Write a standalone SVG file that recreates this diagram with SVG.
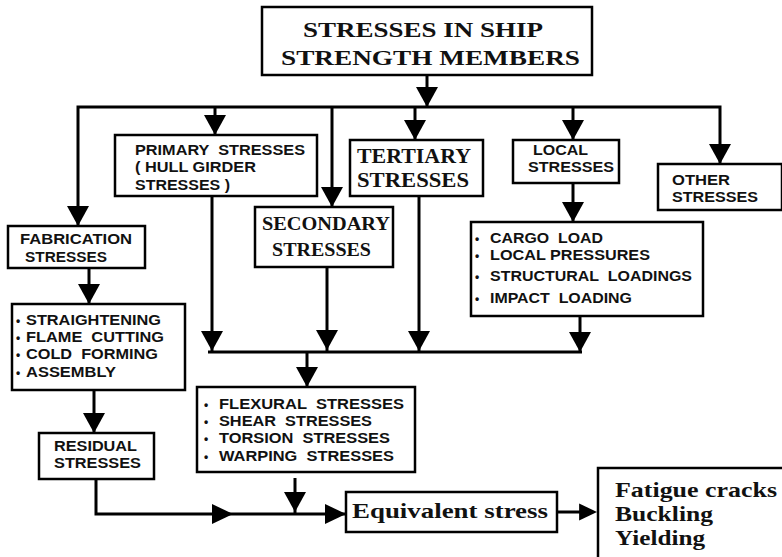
<svg xmlns="http://www.w3.org/2000/svg" xmlns:xlink="http://www.w3.org/1999/xlink" width="782" height="557" viewBox="0 0 782 557">
  <style>
    .box { fill: #fff; stroke: #000; stroke-width: 2.5; }
    .ln { fill: none; stroke: #000; stroke-width: 3; }
    text { white-space: pre; }
    .s { font-family: "Liberation Sans", Arial, sans-serif; font-weight: bold; font-size: 14px; fill: #111; }
    .r { font-family: "Liberation Serif", "Times New Roman", serif; font-weight: bold; fill: #111; }
    .b { font-family: "Liberation Sans", Arial, sans-serif; font-weight: bold; font-size: 12px; fill: #111; }
  </style>
  <defs>
    <!-- downward arrowhead, tip at origin -->
    <path id="ad" d="M-11,-20 L11,-20 L0,0 Z" fill="#000"/>
    <!-- rightward arrowhead, tip at origin -->
    <path id="ar" d="M-21,-10 L-21,10 L0,0 Z" fill="#000"/>
  </defs>

  <g id="connectors">
    <path class="ln" d="M427,75 V107"/>
    <path class="ln" d="M78,226 V107 H720 V164"/>
    <path class="ln" d="M215,107 V135"/>
    <path class="ln" d="M332,107 V207"/>
    <path class="ln" d="M415,107 V140"/>
    <path class="ln" d="M573,107 V140"/>
    <path class="ln" d="M573,183 V222"/>
    <path class="ln" d="M89,268 V304"/>
    <path class="ln" d="M94,390 V433"/>
    <path class="ln" d="M212,196 V351"/>
    <path class="ln" d="M327,267 V351"/>
    <path class="ln" d="M419,196 V351"/>
    <path class="ln" d="M580,316 V351"/>
    <path class="ln" d="M208,352 H582"/>
    <path class="ln" d="M307,352 V387"/>
    <path class="ln" d="M295,478 V514"/>
    <path class="ln" d="M96,479 V514 H346"/>
    <path class="ln" d="M557,512 H590"/>

    <use xlink:href="#ad" x="427" y="107"/>
    <use xlink:href="#ad" x="78" y="226"/>
    <use xlink:href="#ad" x="215" y="135"/>
    <use xlink:href="#ad" x="332" y="207"/>
    <use xlink:href="#ad" x="415" y="140"/>
    <use xlink:href="#ad" x="573" y="140"/>
    <use xlink:href="#ad" x="720" y="164"/>
    <use xlink:href="#ad" x="573" y="222"/>
    <use xlink:href="#ad" x="89" y="304"/>
    <use xlink:href="#ad" x="94" y="433"/>
    <use xlink:href="#ad" x="212" y="351"/>
    <use xlink:href="#ad" x="327" y="350"/>
    <use xlink:href="#ad" x="419" y="351"/>
    <use xlink:href="#ad" x="580" y="352"/>
    <use xlink:href="#ad" x="307" y="387"/>
    <use xlink:href="#ad" x="295" y="512"/>
    <use xlink:href="#ar" x="233" y="514"/>
    <use xlink:href="#ar" x="346" y="514"/>
    <use xlink:href="#ar" x="597" y="512" transform="translate(597,512) scale(0.85) translate(-597,-512)"/>
  </g>

  <g id="title">
    <rect class="box" x="262" y="7" width="330" height="68"/>
    <text class="r" font-size="22" x="303" y="37" textLength="240" lengthAdjust="spacingAndGlyphs">STRESSES IN SHIP</text>
    <text class="r" font-size="22" x="281" y="65" textLength="299" lengthAdjust="spacingAndGlyphs">STRENGTH MEMBERS</text>
  </g>

  <g id="fabrication">
    <rect class="box" x="8" y="226" width="137" height="42"/>
    <text class="s" x="20" y="244" textLength="112" lengthAdjust="spacingAndGlyphs">FABRICATION</text>
    <text class="s" x="25" y="262" textLength="82" lengthAdjust="spacingAndGlyphs">STRESSES</text>
  </g>

  <g id="primary">
    <rect class="box" x="115" y="135" width="202" height="61"/>
    <text class="s" x="135" y="155" textLength="170" lengthAdjust="spacingAndGlyphs">PRIMARY  STRESSES</text>
    <text class="s" x="135" y="172" textLength="121" lengthAdjust="spacingAndGlyphs">( HULL GIRDER</text>
    <text class="s" x="135" y="190" textLength="95" lengthAdjust="spacingAndGlyphs">STRESSES )</text>
  </g>

  <g id="secondary">
    <rect class="box" x="255" y="207" width="138" height="60"/>
    <text class="r" font-size="19" x="262" y="230" textLength="128" lengthAdjust="spacingAndGlyphs">SECONDARY</text>
    <text class="r" font-size="19" x="272" y="256" textLength="99" lengthAdjust="spacingAndGlyphs">STRESSES</text>
  </g>

  <g id="tertiary">
    <rect class="box" x="350" y="140" width="133" height="56"/>
    <text class="r" font-size="20" x="357" y="163" textLength="114" lengthAdjust="spacingAndGlyphs">TERTIARY</text>
    <text class="r" font-size="20" x="357" y="187" textLength="112" lengthAdjust="spacingAndGlyphs">STRESSES</text>
  </g>

  <g id="local">
    <rect class="box" x="513" y="140" width="106" height="43"/>
    <text class="s" x="533" y="155" textLength="55" lengthAdjust="spacingAndGlyphs">LOCAL</text>
    <text class="s" x="528" y="172" textLength="86" lengthAdjust="spacingAndGlyphs">STRESSES</text>
  </g>

  <g id="other">
    <rect class="box" x="658" y="164" width="124" height="46"/>
    <text class="s" x="672" y="185" textLength="58" lengthAdjust="spacingAndGlyphs">OTHER</text>
    <text class="s" x="672" y="202" textLength="86" lengthAdjust="spacingAndGlyphs">STRESSES</text>
  </g>

  <g id="loads">
    <rect class="box" x="471" y="222" width="232" height="94"/>
    <text class="b" x="475" y="243">•</text>
    <text class="s" x="490" y="243" textLength="113" lengthAdjust="spacingAndGlyphs">CARGO  LOAD</text>
    <text class="b" x="475" y="260">•</text>
    <text class="s" x="490" y="260" textLength="160" lengthAdjust="spacingAndGlyphs">LOCAL PRESSURES</text>
    <text class="b" x="475" y="281">•</text>
    <text class="s" x="490" y="281" textLength="202" lengthAdjust="spacingAndGlyphs">STRUCTURAL  LOADINGS</text>
    <text class="b" x="475" y="303">•</text>
    <text class="s" x="490" y="303" textLength="142" lengthAdjust="spacingAndGlyphs">IMPACT  LOADING</text>
  </g>

  <g id="processes">
    <rect class="box" x="12" y="304" width="173" height="86"/>
    <text class="b" x="16" y="325">•</text>
    <text class="s" x="26" y="325" textLength="135" lengthAdjust="spacingAndGlyphs">STRAIGHTENING</text>
    <text class="b" x="16" y="342">•</text>
    <text class="s" x="26" y="342" textLength="138" lengthAdjust="spacingAndGlyphs">FLAME  CUTTING</text>
    <text class="b" x="16" y="359">•</text>
    <text class="s" x="26" y="359" textLength="132" lengthAdjust="spacingAndGlyphs">COLD  FORMING</text>
    <text class="b" x="16" y="377">•</text>
    <text class="s" x="26" y="377" textLength="90" lengthAdjust="spacingAndGlyphs">ASSEMBLY</text>
  </g>

  <g id="residual">
    <rect class="box" x="39" y="433" width="115" height="46"/>
    <text class="s" x="54" y="451" textLength="83" lengthAdjust="spacingAndGlyphs">RESIDUAL</text>
    <text class="s" x="54" y="468" textLength="87" lengthAdjust="spacingAndGlyphs">STRESSES</text>
  </g>

  <g id="hull-stresses">
    <rect class="box" x="197" y="387" width="218" height="85"/>
    <text class="b" x="204" y="409">•</text>
    <text class="s" x="219" y="409" textLength="185" lengthAdjust="spacingAndGlyphs">FLEXURAL  STRESSES</text>
    <text class="b" x="204" y="426">•</text>
    <text class="s" x="219" y="426" textLength="153" lengthAdjust="spacingAndGlyphs">SHEAR  STRESSES</text>
    <text class="b" x="204" y="443">•</text>
    <text class="s" x="219" y="443" textLength="171" lengthAdjust="spacingAndGlyphs">TORSION  STRESSES</text>
    <text class="b" x="204" y="461">•</text>
    <text class="s" x="219" y="461" textLength="175" lengthAdjust="spacingAndGlyphs">WARPING  STRESSES</text>
  </g>

  <g id="equivalent">
    <rect class="box" x="346" y="492" width="211" height="40"/>
    <text class="r" font-size="21" x="352" y="518" textLength="196" lengthAdjust="spacingAndGlyphs">Equivalent stress</text>
  </g>

  <g id="failure-modes">
    <rect class="box" x="598" y="468" width="200" height="100"/>
    <text class="r" font-size="21" x="615" y="497" textLength="162" lengthAdjust="spacingAndGlyphs">Fatigue cracks</text>
    <text class="r" font-size="21" x="615" y="521" textLength="98" lengthAdjust="spacingAndGlyphs">Buckling</text>
    <text class="r" font-size="21" x="615" y="545" textLength="90" lengthAdjust="spacingAndGlyphs">Yielding</text>
  </g>
</svg>
